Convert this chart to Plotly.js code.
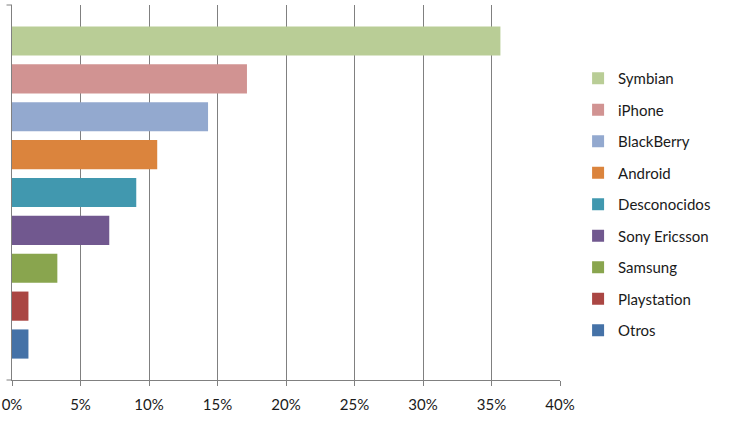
<!DOCTYPE html>
<html><head><meta charset="utf-8">
<script src="https://cdn.plot.ly/plotly-3.0.1.min.js"></script>
<style>html,body{margin:0;padding:0;background:#fff}#chart{width:730px;height:428px}</style>
</head><body><div id="chart"></div>
<script>
const categories = ["Symbian","iPhone","BlackBerry","Android","Desconocidos","Sony Ericsson","Samsung","Playstation","Otros"];
const shares = [0.3565, 0.1715, 0.1431, 0.106, 0.0907, 0.071, 0.0331, 0.012, 0.012];
const colors = ["#B9CD96","#D19392","#93A9CF","#DB843D","#4198AF","#71588F","#89A54E","#AA4643","#4572A7"];
const xTicks = [0,0.05,0.10,0.15,0.20,0.25,0.30,0.35,0.40];
const xTickLabels = ["0%","5%","10%","15%","20%","25%","30%","35%","40%"];

const traces = categories.map((c,i)=>({
  type:'bar', orientation:'h', name:c, y:[c], x:[shares[i]],
  marker:{color:colors[i]}, width:0.77, legendgroup:'g'+i, hoverinfo:'x+name'
}));
const font = {family:'Lato, "Open Sans", sans-serif', size:15, color:'#1a1a1a'};
Plotly.newPlot('chart', traces, {
  width:730, height:428, font:font,
  margin:{l:11.5, r:170, t:5, b:48, pad:0},
  paper_bgcolor:'#fff', plot_bgcolor:'#fff',
  barmode:'overlay', showlegend:true,
  legend:{x:1.033, xanchor:'left', y:0.468, yanchor:'middle', traceorder:'grouped', tracegroupgap:9, font:font, bgcolor:'rgba(0,0,0,0)'},
  xaxis:{range:[0,0.4], tickvals:xTicks, ticktext:xTickLabels, showgrid:true, gridcolor:'#808080', gridwidth:1,
    zeroline:false, showline:true, linecolor:'#808080', ticks:'outside', ticklen:5, tickcolor:'#808080',
    ticklabelstandoff:6, fixedrange:true},
  yaxis:{type:'category', categoryorder:'array', categoryarray:categories, range:[8.95,-0.95], showticklabels:false,
    showgrid:false, zeroline:false, showline:true, linecolor:'#808080', ticks:'', fixedrange:true},
  shapes:[
    {type:'line', xref:'paper', yref:'paper', x0:-0.01, x1:0, y0:1, y1:1, line:{color:'#808080', width:1}},
    {type:'line', xref:'paper', yref:'paper', x0:-0.01, x1:0, y0:0, y1:0, line:{color:'#808080', width:1}}
  ]
}, {displayModeBar:false, staticPlot:true});
</script></body></html>
